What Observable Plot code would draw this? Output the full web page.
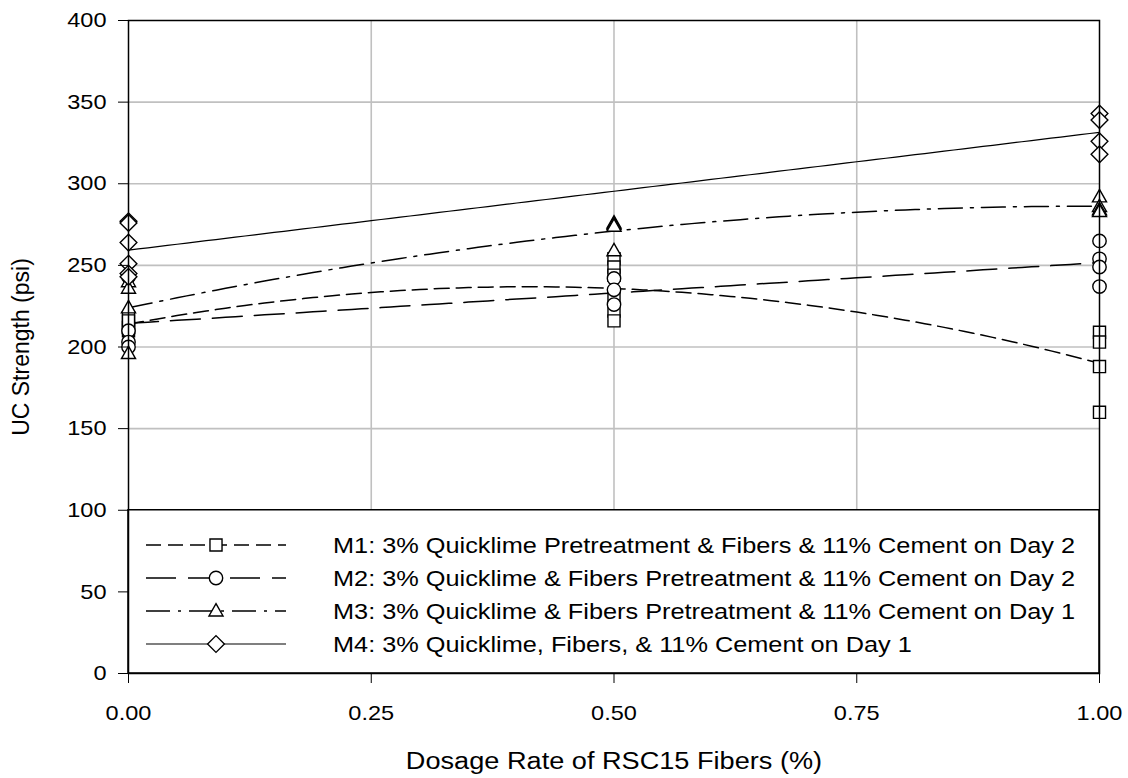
<!DOCTYPE html>
<html><head><meta charset="utf-8">
<script src="https://cdn.jsdelivr.net/npm/d3@7"></script>
<script src="https://cdn.jsdelivr.net/npm/@observablehq/plot@0.6"></script>
<style>
body{margin:0;background:#fff;}
#chart svg{font-family:"Liberation Sans",Arial,sans-serif;}
</style>
</head><body><div id="chart"></div>
<script>
// ---- data ----
const seriesNames = [
  "M1: 3% Quicklime Pretreatment & Fibers & 11% Cement on Day 2",
  "M2: 3% Quicklime & Fibers Pretreatment & 11% Cement on Day 2",
  "M3: 3% Quicklime & Fibers Pretreatment & 11% Cement on Day 1",
  "M4: 3% Quicklime, Fibers, & 11% Cement on Day 1"
];
const m1Dose = [0,0,0,0, 0.5,0.5,0.5,0.5,0.5,0.5, 1,1,1,1];
const m1UCS  = [218,212,210,216, 254,249,244,230,222,216, 209,203,188,160];
const m2Dose = [0,0,0,0, 0.5,0.5,0.5, 1,1,1,1];
const m2UCS  = [243,210,203,200, 242,235,226, 265,254,249,237];
const m3Dose = [0,0,0,0, 0.5,0.5,0.5,0.5, 1,1,1,1];
const m3UCS  = [240,236,224,196, 276,275,274,259, 292,286,284,283];
const m4Dose = [0,0,0,0,0,0, 1,1,1,1];
const m4UCS  = [277,276,264,251,245,243, 343,339,326,318];
const trendOrder = [2, 1, 2, 1]; // polynomial order of each series' trendline
const xTicks = [0, 0.25, 0.5, 0.75, 1];
const yTicks = [0, 50, 100, 150, 200, 250, 300, 350, 400];
const gridYTicks = [150, 200, 250, 300, 350];
const gridXTicks = [0.25, 0.5, 0.75];

// ---- styles ----
const dashes = ["15,7", "30,12", "24,8,3,8", null];
const shapes = ["square", "circle", "triangle", "diamond"];
const R = 6.7;

const symbolDefs = {
  square: {draw(ctx, size){const r=Math.sqrt(size/Math.PI), h=r*0.9; ctx.rect(-h,-h,2*h,2*h);}},
  circle: {draw(ctx, size){const r=Math.sqrt(size/Math.PI); ctx.moveTo(r,0); ctx.arc(0,0,r,0,2*Math.PI);}},
  triangle: {draw(ctx, size){const r=Math.sqrt(size/Math.PI); ctx.moveTo(0,-r*1.1); ctx.lineTo(r*1.05,r*0.75); ctx.lineTo(-r*1.05,r*0.75); ctx.closePath();}},
  diamond: {draw(ctx, size){const r=Math.sqrt(size/Math.PI)*1.25; ctx.moveTo(0,-r); ctx.lineTo(r,0); ctx.lineTo(0,r); ctx.lineTo(-r,0); ctx.closePath();}}
};

const doses = [m1Dose, m2Dose, m3Dose, m4Dose];
const ucs = [m1UCS, m2UCS, m3UCS, m4UCS];

const points = [];
doses.forEach((ds, s) => ds.forEach((d, i) => points.push({series: s, dose: d, ucs: ucs[s][i]})));

// least-squares polynomial fit (Excel-style trendline)
function polyfit(xs, ys, order){
  const n = order + 1;
  const A = Array.from({length:n}, () => new Array(n+1).fill(0));
  xs.forEach((x, k) => {
    for (let i=0;i<n;i++){
      for (let j=0;j<n;j++) A[i][j] += Math.pow(x, i+j);
      A[i][n] += ys[k]*Math.pow(x, i);
    }
  });
  for (let i=0;i<n;i++){
    let p=i; for (let r=i+1;r<n;r++) if (Math.abs(A[r][i])>Math.abs(A[p][i])) p=r;
    [A[i],A[p]]=[A[p],A[i]];
    for (let r=0;r<n;r++) if (r!==i){ const f=A[r][i]/A[i][i]; for (let c=i;c<=n;c++) A[r][c]-=f*A[i][c]; }
  }
  return A.map((row,i)=>row[n]/row[i]);
}
const trend = [];
doses.forEach((ds, s) => {
  const coef = polyfit(ds, ucs[s], trendOrder[s]);
  d3.range(0, 1.0001, 0.01).forEach(x => trend.push({series:s, dose:x, ucs: coef.reduce((a,c,i)=>a+c*Math.pow(x,i),0)}));
});

const W = 1128, H = 778;
const plot = Plot.plot({
  width: W, height: H,
  marginLeft: 128, marginRight: 29, marginTop: 20, marginBottom: 105,
  style: {fontFamily: '"Liberation Sans", Arial, sans-serif', background: "#fff"},
  x: {domain: [0, 1]},
  y: {domain: [0, 400]},
  marks: [
    Plot.gridY(gridYTicks, {stroke: "#c0c0c0", strokeOpacity: 1, strokeWidth: 1.6}),
    Plot.gridX(gridXTicks, {stroke: "#c0c0c0", strokeOpacity: 1, strokeWidth: 1.6, y1: 100, y2: 400}),
    ...[0,1,2,3].map(s => Plot.line(trend.filter(d => d.series===s), {
      x: "dose", y: "ucs", stroke: "#000", strokeWidth: s===3 ? 1.2 : 1.5,
      strokeDasharray: dashes[s] || undefined
    })),
    ...[0,1,2,3].map(s => Plot.dot(points.filter(d => d.series===s), {
      x: "dose", y: "ucs", symbol: () => symbolDefs[shapes[s]], r: R,
      stroke: "#000", fill: "#fff", strokeWidth: 1.4
    })),
    Plot.frame({stroke: "#000", strokeWidth: 1.5}),
    Plot.axisY(yTicks, {tickSize: 10, tickPadding: 12, fontSize: 21, tickFormat: d => d,
      label: "UC Strength (psi)", labelAnchor: "center", labelArrow: "none", labelOffset: 116}),
    Plot.axisX(xTicks, {tickSize: 10, tickPadding: 22, fontSize: 21, tickFormat: d3.format(".2f"),
      label: "Dosage Rate of RSC15 Fibers (%)", labelAnchor: "center", labelArrow: "none", labelOffset: 95})
  ]
});

// ---- legend box inside the plot (covers the 0–100 band) ----
const svg = d3.select(plot);
const xs = plot.scale("x"), ys = plot.scale("y");
const x0 = xs.apply(0), x1 = xs.apply(1), yTop = ys.apply(100), yBot = ys.apply(0);
const frame = svg.select("[aria-label=frame]");
const lg = svg.insert("g", () => frame.node());
lg.append("rect").attr("x", x0).attr("y", yTop).attr("width", x1-x0).attr("height", yBot-yTop)
  .attr("fill", "#fff").attr("stroke", "#000").attr("stroke-width", 1.5);
const rowY = [545, 578, 611, 644];
seriesNames.forEach((name, s) => {
  const y = rowY[s];
  lg.append("line").attr("x1", 146).attr("x2", 286).attr("y1", y).attr("y2", y)
    .attr("stroke", "#000").attr("stroke-width", s===3 ? 1.2 : 1.5)
    .attr("stroke-dasharray", dashes[s]);
  lg.append("path").attr("transform", `translate(216,${y})`)
    .attr("d", d3.symbol(symbolDefs[shapes[s]], R*R*Math.PI)())
    .attr("fill", "#fff").attr("stroke", "#000").attr("stroke-width", 1.4);
  lg.append("text").attr("class", "lgtext").attr("x", 333).attr("y", y).attr("dy", "0.35em")
    .attr("text-anchor", "start").attr("font-size", 22).attr("fill", "#000").text(name);
});
svg.selectAll("[aria-label='y-axis label'] text, [aria-label='x-axis label'] text").attr("font-size", 23);
document.getElementById("chart").appendChild(plot);

// the reference's lettering is somewhat wide: widen horizontal texts
function widen(sel, k){
  sel.each(function(){
    const w = this.getComputedTextLength();
    this.setAttribute("textLength", (w*k).toFixed(1));
    this.setAttribute("lengthAdjust", "spacingAndGlyphs");
  });
}
widen(svg.selectAll("[aria-label='x-axis tick label'] text, [aria-label='y-axis tick label'] text"), 1.12);
widen(svg.selectAll("text.lgtext"), 1.15);
widen(svg.selectAll("[aria-label='x-axis label'] text"), 1.18);
</script>
</body></html>
